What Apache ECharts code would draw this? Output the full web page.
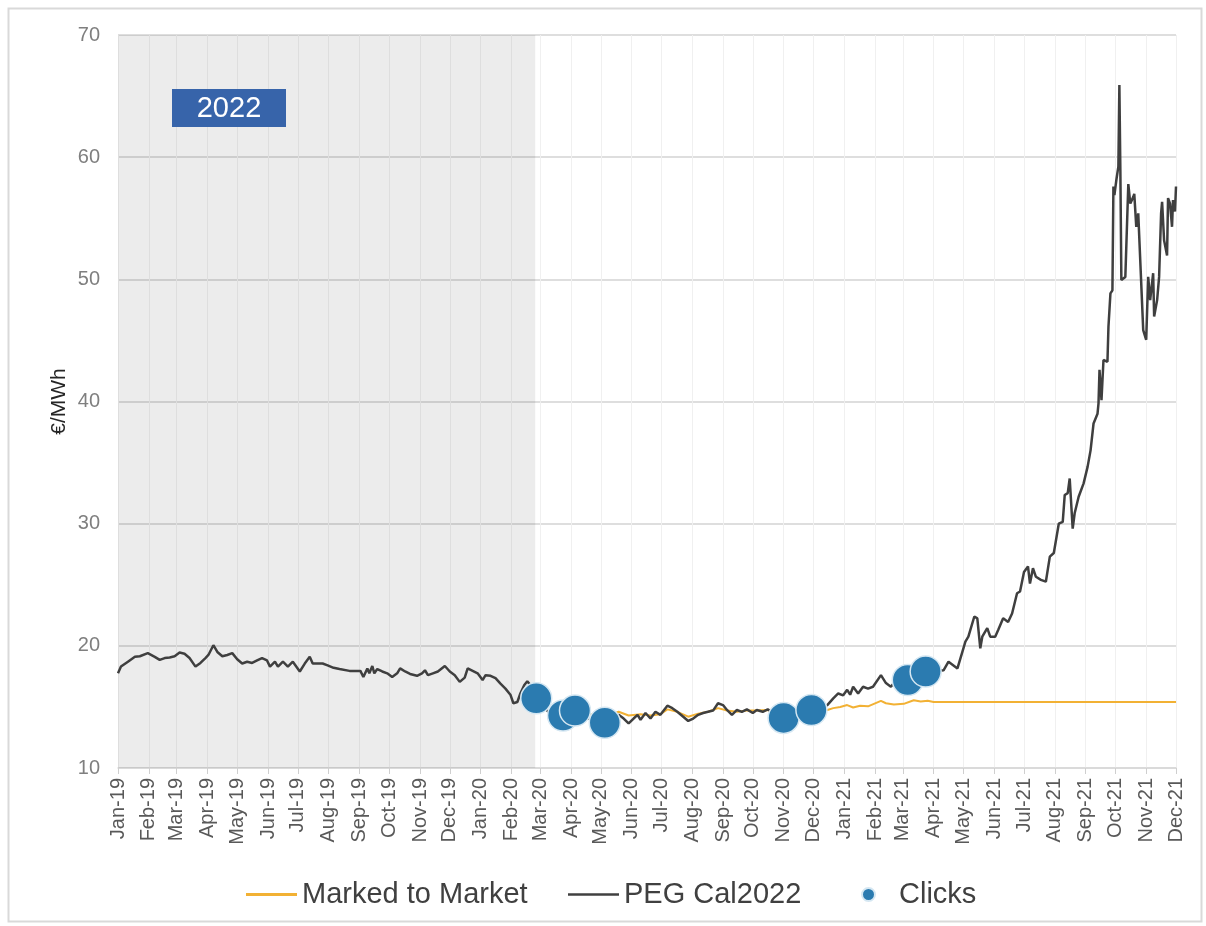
<!DOCTYPE html>
<html>
<head>
<meta charset="utf-8">
<title>PEG Cal2022</title>
<script src="https://cdn.jsdelivr.net/npm/echarts@6/dist/echarts.min.js"></script>
<style>
  html, body { margin: 0; padding: 0; background: #fff; }
  #main { width: 1206px; height: 926px; }
</style>
</head>
<body>
<div id="main"></div>
<script>
// PEG Cal2022 forward price (EUR/MWh)
let pegDates = [
  '2019-01-01','2019-01-04','2019-01-11','2019-01-18','2019-01-23','2019-01-31','2019-02-07','2019-02-12','2019-02-17','2019-02-22',
  '2019-02-27','2019-03-04','2019-03-09','2019-03-14','2019-03-20','2019-03-25','2019-03-30','2019-04-02','2019-04-07','2019-04-11',
  '2019-04-16','2019-04-21','2019-04-26','2019-05-01','2019-05-06','2019-05-11','2019-05-16','2019-05-21','2019-05-26','2019-05-31',
  '2019-06-03','2019-06-08','2019-06-11','2019-06-16','2019-06-21','2019-06-26','2019-07-03','2019-07-08','2019-07-13','2019-07-16',
  '2019-07-21','2019-07-26','2019-07-31','2019-08-06','2019-08-12','2019-08-22','2019-09-02','2019-09-05','2019-09-09','2019-09-11',
  '2019-09-14','2019-09-16','2019-09-19','2019-09-24','2019-09-29','2019-10-04','2019-10-09','2019-10-12','2019-10-17','2019-10-22',
  '2019-10-29','2019-11-03','2019-11-06','2019-11-09','2019-11-14','2019-11-19','2019-11-26','2019-12-01','2019-12-06','2019-12-11',
  '2019-12-16','2019-12-19','2019-12-24','2019-12-29','2020-01-03','2020-01-06','2020-01-11','2020-01-16','2020-01-21','2020-01-26',
  '2020-01-31','2020-02-03','2020-02-07','2020-02-10','2020-02-14','2020-02-17','2020-02-22','2020-02-26','2020-03-03','2020-03-09',
  '2020-03-16','2020-03-24','2020-03-30','2020-04-05','2020-04-12','2020-04-20','2020-04-28','2020-05-05','2020-05-13','2020-05-19',
  '2020-05-24','2020-05-29','2020-06-03','2020-06-07','2020-06-10','2020-06-15','2020-06-20','2020-06-25','2020-06-30','2020-07-07',
  '2020-07-12','2020-07-17','2020-07-23','2020-07-28','2020-08-02','2020-08-07','2020-08-12','2020-08-17','2020-08-22','2020-08-27',
  '2020-09-01','2020-09-05','2020-09-10','2020-09-15','2020-09-20','2020-09-25','2020-10-01','2020-10-05','2020-10-11','2020-10-16',
  '2020-10-24','2020-11-01','2020-11-08','2020-11-18','2020-11-29','2020-12-08','2020-12-15','2020-12-21','2020-12-26','2020-12-31',
  '2021-01-04','2021-01-07','2021-01-10','2021-01-15','2021-01-20','2021-01-25','2021-01-30','2021-02-07','2021-02-12','2021-02-17',
  '2021-02-20','2021-02-27','2021-03-06','2021-03-12','2021-03-19','2021-03-24','2021-04-01','2021-04-11','2021-04-16','2021-04-18',
  '2021-04-25','2021-05-01','2021-05-03','2021-05-06','2021-05-12','2021-05-15','2021-05-18','2021-05-20','2021-05-25','2021-05-28',
  '2021-06-02','2021-06-05','2021-06-10','2021-06-15','2021-06-19','2021-06-24','2021-06-27','2021-07-01','2021-07-05','2021-07-07',
  '2021-07-10','2021-07-13','2021-07-18','2021-07-23','2021-07-27','2021-07-31','2021-08-05','2021-08-09','2021-08-11','2021-08-14',
  '2021-08-16','2021-08-19','2021-08-21','2021-08-25','2021-08-30','2021-09-03','2021-09-06','2021-09-09','2021-09-13','2021-09-14',
  '2021-09-15','2021-09-17','2021-09-19','2021-09-23','2021-09-24','2021-09-26','2021-09-28','2021-09-29','2021-09-30','2021-10-02',
  '2021-10-04','2021-10-05','2021-10-06','2021-10-07','2021-10-11','2021-10-14','2021-10-16','2021-10-19','2021-10-20','2021-10-22',
  '2021-10-24','2021-10-26','2021-10-29','2021-11-01','2021-11-03','2021-11-05','2021-11-08','2021-11-09','2021-11-12','2021-11-14',
  '2021-11-16','2021-11-17','2021-11-19','2021-11-22','2021-11-23','2021-11-25','2021-11-27','2021-11-28','2021-11-30','2021-12-01'
]
let pegValues = [
  17.75,18.3,18.7,19.1,19.15,19.4,19.1,18.85,19.0,19.05,
  19.15,19.45,19.35,19.0,18.3,18.6,19.0,19.25,20.05,19.5,
  19.15,19.25,19.4,18.9,18.55,18.7,18.6,18.8,19.0,18.8,
  18.3,18.7,18.3,18.7,18.3,18.7,17.9,18.55,19.1,18.55,
  18.55,18.55,18.4,18.2,18.1,17.95,17.95,17.45,18.15,17.75,
  18.35,17.75,18.1,17.9,17.75,17.45,17.75,18.15,17.9,17.7,
  17.55,17.75,18.0,17.6,17.75,17.9,18.35,17.9,17.6,17.05,
  17.4,18.15,17.95,17.75,17.2,17.6,17.55,17.35,16.9,16.5,
  16.0,15.3,15.4,16.1,16.8,17.1,16.6,15.8,15.2,14.6,
  14.2,14.3,14.6,14.7,14.4,14.0,13.8,13.7,14.1,14.35,
  14.05,13.65,14.05,14.35,13.95,14.5,14.05,14.6,14.35,15.1,
  14.9,14.6,14.2,13.85,14.05,14.35,14.5,14.6,14.7,15.3,
  15.15,14.75,14.35,14.75,14.6,14.8,14.5,14.75,14.6,14.8,
  14.4,14.1,14.4,14.6,14.75,14.9,15.15,15.7,16.1,15.95,
  16.4,16.0,16.65,16.1,16.65,16.5,16.65,17.6,16.95,16.65,
  16.95,17.0,17.2,17.5,17.8,17.9,17.9,18.0,18.7,18.55,
  18.15,19.8,20.35,20.75,22.4,22.25,19.8,20.75,21.45,20.75,
  20.75,21.3,22.25,21.95,22.65,24.3,24.45,26.05,26.5,25.1,
  26.35,25.65,25.4,25.25,27.3,27.6,30.0,30.15,32.35,32.5,
  33.7,29.6,30.85,32.2,33.3,34.65,36.0,38.2,39.0,39.85,
  42.6,40.1,43.4,43.25,46.1,48.85,49.1,57.6,56.9,58.15,
  59.25,65.9,58.9,49.95,50.2,57.8,56.2,56.75,57.0,54.3,
  55.4,55.55,45.85,45.05,50.2,48.3,50.5,46.95,48.3,50.2,
  55.4,56.35,53.2,51.95,56.65,56.2,54.3,56.5,55.55,57.6
]

// Marked to Market
let mtmDates = [
  '2020-02-26','2020-03-09','2020-03-24','2020-04-05','2020-04-20','2020-05-05','2020-05-19','2020-05-29','2020-06-10','2020-06-20',
  '2020-06-30','2020-07-07','2020-07-17','2020-07-28','2020-08-07','2020-08-17','2020-08-27','2020-09-05','2020-09-15','2020-09-25',
  '2020-10-05','2020-10-16','2020-11-01','2020-11-18','2020-11-29','2020-12-15','2020-12-21','2020-12-28','2021-01-04','2021-01-10',
  '2021-01-17','2021-01-25','2021-02-07','2021-02-12','2021-02-20','2021-03-02','2021-03-12','2021-03-19','2021-03-26','2021-04-01',
  '2021-12-01'
]
let mtmValues = [
  15.7,15.0,14.5,14.6,14.4,14.2,14.6,14.3,14.4,14.3,
  14.4,14.8,14.6,14.2,14.45,14.6,14.9,14.7,14.6,14.7,
  14.7,14.75,14.6,14.7,14.75,14.75,14.9,15.0,15.15,14.95,
  15.1,15.05,15.5,15.3,15.2,15.25,15.55,15.45,15.5,15.4,
  15.4
]

// Clicks
let clickDates = ['2020-02-26','2020-03-24','2020-04-05','2020-05-05','2020-11-01','2020-11-29','2021-03-06','2021-03-24']
let clickValues = [15.7, 14.3, 14.7, 13.7, 14.1, 14.75, 17.2, 17.9]

let shadeFrom = '2019-01-01'
let shadeTo = '2020-02-25'

let zip = (dates, values) => dates.map((d, i) => [d, values[i]])

let chart = echarts.init(document.getElementById('main'))
let font = '"Liberation Sans", Arial, sans-serif'

// one legend block per entry so each can sit where the reference has it
let legendText = { fontSize: 29, color: '#404040', fontFamily: font }
let legendBlock = (left, item) => ({
  left: left,
  top: 875,
  itemWidth: 51,
  itemHeight: 13,
  textStyle: legendText,
  data: [item]
})

chart.setOption({
  animation: false,
  textStyle: { fontFamily: font },
  grid: { left: 118, right: 30, top: 35, bottom: 158 },
  legend: [
    legendBlock(241, { name: 'Marked to Market', icon: 'path://M0,6L51,6L51,9L0,9Z' }),
    legendBlock(563, { name: 'PEG Cal2022', icon: 'path://M0,6L51,6L51,8.5L0,8.5Z' }),
    legendBlock(856, { name: 'Clicks', icon: 'circle' })
  ],
  xAxis: {
    type: 'time',
    min: '2019-01-01',
    max: '2021-12-01',
    splitNumber: 36,
    minInterval: 28 * 24 * 3600 * 1000,
    maxInterval: 31 * 24 * 3600 * 1000,
    axisLine: { lineStyle: { color: '#d9d9d9', width: 1.5 } },
    axisTick: { show: true, length: 6, lineStyle: { color: '#cfcfcf' } },
    axisLabel: {
      rotate: 90,
      margin: 10,
      fontSize: 20,
      color: '#595959',
      fontFamily: font,
      formatter: '{MMM}-{yy}',
      hideOverlap: false
    },
    splitLine: { show: true, lineStyle: { color: '#f0f0f0', width: 1 } }
  },
  yAxis: {
    type: 'value',
    min: 10,
    max: 70,
    interval: 10,
    name: '€/MWh',
    nameLocation: 'middle',
    nameGap: 48,
    nameMoveOverlap: false,
    nameTextStyle: { fontSize: 21, color: '#262626', fontFamily: font },
    axisLine: { show: false },
    axisTick: { show: false },
    axisLabel: { fontSize: 20, color: '#7f7f7f', margin: 18, fontFamily: font },
    splitLine: { lineStyle: { color: '#dedede', width: 2 } }
  },
  series: [
    {
      name: 'Marked to Market',
      type: 'line',
      data: zip(mtmDates, mtmValues),
      symbol: 'none',
      color: '#f2b134',
      lineStyle: { color: '#f2b134', width: 2 },
      markArea: {
        silent: true,
        itemStyle: { color: 'rgba(0,0,0,0.075)' },
        data: [[{ xAxis: shadeFrom }, { xAxis: shadeTo }]]
      },
      z: 2
    },
    {
      name: 'PEG Cal2022',
      type: 'line',
      data: zip(pegDates, pegValues),
      symbol: 'none',
      color: '#404040',
      lineStyle: { color: '#3f3f3f', width: 2.5 },
      z: 3
    },
    {
      name: 'Clicks',
      type: 'scatter',
      data: zip(clickDates, clickValues),
      symbolSize: 31,
      color: '#2b7bb0',
      itemStyle: { color: '#2b7bb0', borderColor: '#d5e7f2', borderWidth: 1.5, opacity: 1 },
      z: 4
    }
  ],
  graphic: [
    {
      type: 'rect',
      left: 6,
      top: 6,
      z: 100,
      shape: { width: 1193, height: 913 },
      style: { fill: 'none', stroke: '#d9d9d9', lineWidth: 2 },
      silent: true
    },
    {
      type: 'group',
      left: 172,
      top: 89,
      z: 100,
      children: [
        { type: 'rect', z: 100, shape: { x: 0, y: 0, width: 114, height: 38 }, style: { fill: '#3764aa' } },
        {
          type: 'text',
          z: 101,
          x: 57,
          y: 20,
          style: { text: '2022', fill: '#fff', fontSize: 29, fontFamily: font, align: 'center', verticalAlign: 'middle' }
        }
      ]
    }
  ]
})
</script>
</body>
</html>
